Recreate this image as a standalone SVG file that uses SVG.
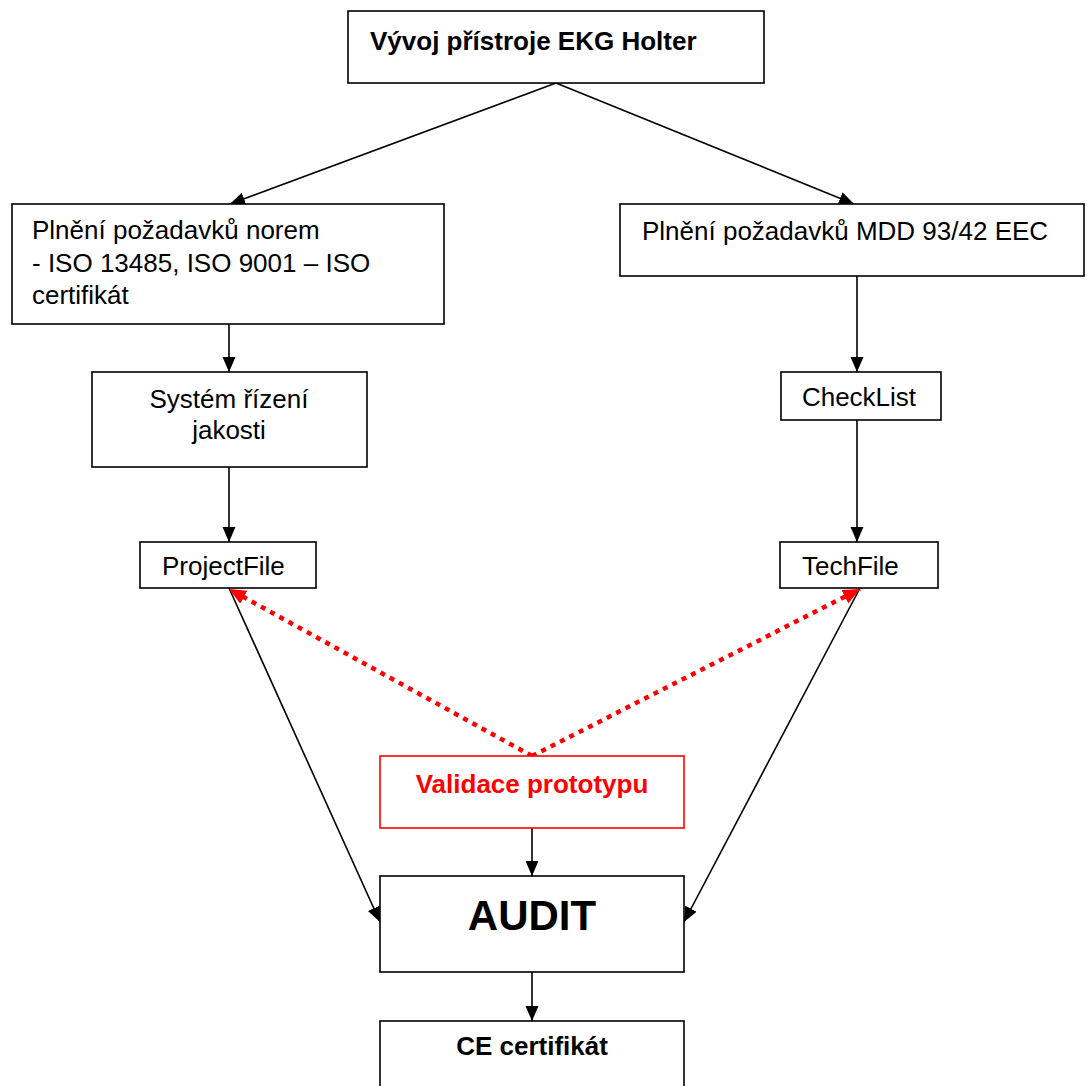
<svg xmlns="http://www.w3.org/2000/svg" width="1090" height="1086" viewBox="0 0 1090 1086">
<style>
.box{fill:#fff;stroke:#000;stroke-width:1.6}
.rbox{fill:#fff;stroke:#ff0000;stroke-width:1.6}
.t{font-family:"Liberation Sans",Arial,sans-serif;font-size:26px;fill:#000}
.b{font-weight:bold}
.c{stroke:#000;stroke-width:1.6;fill:none}
.rd{stroke:#ff0000;stroke-width:4.5;stroke-dasharray:5 5.5;fill:none}
</style>
<defs>
<marker id="ah" markerUnits="userSpaceOnUse" markerWidth="16" markerHeight="14" refX="15" refY="6.5" orient="auto"><path d="M0,0 L15,6.5 L0,13 Z" fill="#000"/></marker>
<marker id="rh" markerUnits="userSpaceOnUse" markerWidth="18" markerHeight="16" refX="17" refY="7.5" orient="auto"><path d="M0,0 L17,7.5 L0,15 Z" fill="#ff0000"/></marker>
</defs>
<g id="connectors">
<line class="c" x1="556" y1="83" x2="230" y2="204" marker-end="url(#ah)"/>
<line class="c" x1="556" y1="83" x2="854" y2="204" marker-end="url(#ah)"/>
<line class="c" x1="229" y1="324" x2="229" y2="372" marker-end="url(#ah)"/>
<line class="c" x1="229" y1="467" x2="229" y2="542" marker-end="url(#ah)"/>
<line class="c" x1="857" y1="276" x2="857" y2="372" marker-end="url(#ah)"/>
<line class="c" x1="857" y1="420" x2="857" y2="542" marker-end="url(#ah)"/>
<line class="c" x1="229" y1="588" x2="380" y2="922" marker-end="url(#ah)"/>
<line class="c" x1="860" y1="588" x2="684" y2="922" marker-end="url(#ah)"/>
<line class="c" x1="532" y1="828" x2="532" y2="876" marker-end="url(#ah)"/>
<line class="c" x1="532" y1="972" x2="532" y2="1021" marker-end="url(#ah)"/>
<line class="rd" x1="532" y1="756" x2="229" y2="589" marker-end="url(#rh)"/>
<line class="rd" x1="532" y1="756" x2="860" y2="589" marker-end="url(#rh)"/>
</g>
<g id="n-top"><rect class="box" x="348" y="11" width="416" height="72"/><text class="t b" x="370" y="50">Vývoj přístroje EKG Holter</text></g>
<g id="n-left"><rect class="box" x="12" y="204" width="432" height="120"/><text class="t" x="32" y="239">Plnění požadavků norem</text><text class="t" x="32" y="272">- ISO 13485, ISO 9001 – ISO</text><text class="t" x="32" y="304">certifikát</text></g>
<g id="n-right"><rect class="box" x="620" y="204" width="464" height="72"/><text class="t" x="642" y="240">Plnění požadavků MDD 93/42 EEC</text></g>
<g id="n-sys"><rect class="box" x="92" y="372" width="275" height="95"/><text class="t" x="229" y="408" text-anchor="middle">Systém řízení</text><text class="t" x="229" y="439" text-anchor="middle">jakosti</text></g>
<g id="n-check"><rect class="box" x="781" y="372" width="160" height="48"/><text class="t" x="859" y="406" text-anchor="middle">CheckList</text></g>
<g id="n-project"><rect class="box" x="140" y="542" width="176" height="46"/><text class="t" x="162" y="575">ProjectFile</text></g>
<g id="n-tech"><rect class="box" x="780" y="542" width="158" height="46"/><text class="t" x="802" y="575">TechFile</text></g>
<g id="n-valid"><rect class="rbox" x="380" y="756" width="304" height="72"/><text class="t b" x="532" y="793" text-anchor="middle" style="fill:#ff0000">Validace prototypu</text></g>
<g id="n-audit"><rect class="box" x="380" y="876" width="304" height="96"/><text class="t b" x="532" y="930" text-anchor="middle" style="font-size:42px">AUDIT</text></g>
<g id="n-ce"><rect class="box" x="380" y="1021" width="304" height="90"/><text class="t b" x="532" y="1055" text-anchor="middle">CE certifikát</text></g>
</svg>
